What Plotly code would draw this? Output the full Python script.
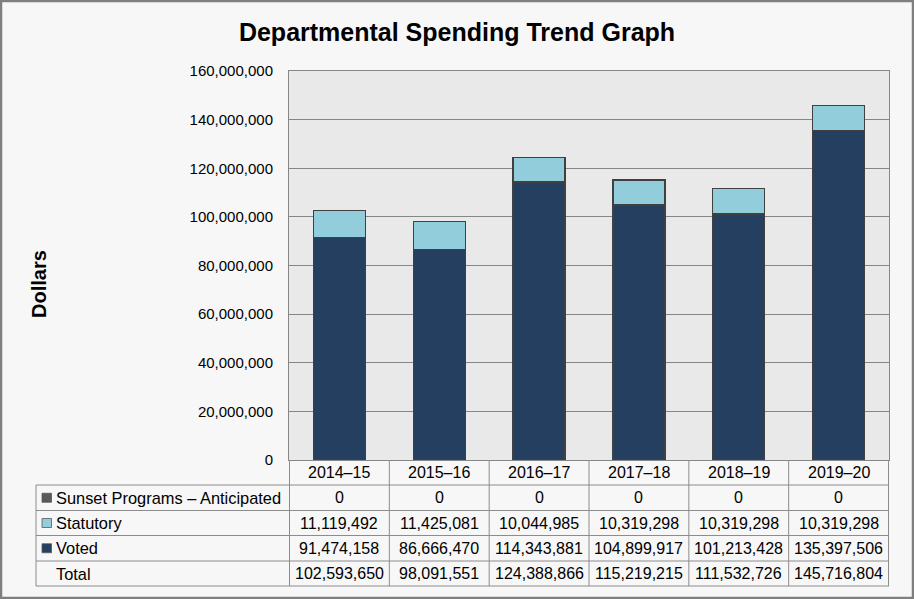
import plotly.graph_objects as go

# ---------------- data ----------------
years = ["2014–15", "2015–16", "2016–17", "2017–18", "2018–19", "2019–20"]
sunset = [0, 0, 0, 0, 0, 0]
statutory = [11119492, 11425081, 10044985, 10319298, 10319298, 10319298]
voted = [91474158, 86666470, 114343881, 104899917, 101213428, 135397506]
total = [102593650, 98091551, 124388866, 115219215, 111532726, 145716804]
series_names = ["Sunset Programs – Anticipated", "Statutory", "Voted"]
y_ticks = [0, 20000000, 40000000, 60000000, 80000000, 100000000,
           120000000, 140000000, 160000000]

# ---------------- style ----------------
W, H = 914, 599
PL, PR, PT, PB = 289, 889, 71, 460          # plot area in pixels
C_SUNSET, C_STAT, C_VOTED = "#595959", "#92cddc", "#243f60"
GRID = "#868686"
FONT = "Liberation Sans, Arial, sans-serif"


def xp(px):
    return (px - PL) / (PR - PL)


def yp(py):
    return (PB - py) / (PB - PT)


fig = go.Figure()
bar_line = dict(color="#404040", width=1.3)
fig.add_trace(go.Bar(x=years, y=voted, name=series_names[2],
                     marker=dict(color=C_VOTED, line=bar_line)))
fig.add_trace(go.Bar(x=years, y=statutory, name=series_names[1],
                     marker=dict(color=C_STAT, line=bar_line)))
fig.add_trace(go.Bar(x=years, y=sunset, name=series_names[0],
                     marker=dict(color=C_SUNSET, line=dict(width=0))))

shapes = []
annotations = []

# table rows (pixel boundaries)
rows = [460, 485, 510.5, 535.5, 561, 586]
row_center = [(rows[i] + rows[i + 1]) / 2 for i in range(5)]
line = dict(color="#8c8c8c", width=1)

for r in rows[1:]:
    shapes.append(dict(type="line", xref="paper", yref="paper",
                       x0=xp(36), x1=xp(PR), y0=yp(r), y1=yp(r), line=line))
shapes.append(dict(type="line", xref="paper", yref="paper",
                   x0=xp(36), x1=xp(36), y0=yp(rows[1]), y1=yp(rows[-1]), line=line))
for i in range(len(years) + 1):
    shapes.append(dict(type="line", xref="x", yref="paper",
                       x0=i - 0.5, x1=i - 0.5, y0=yp(rows[0]), y1=yp(rows[-1]),
                       line=line))

for i, yr in enumerate(years):
    annotations.append(dict(x=i, xref="x", y=yp(row_center[0]), yref="paper",
                            text=yr, showarrow=False, xanchor="center", yanchor="middle",
                            font=dict(size=16, color="black", family=FONT)))

table_rows = [(series_names[0], sunset, C_SUNSET),
              (series_names[1], statutory, C_STAT),
              (series_names[2], voted, C_VOTED),
              ("Total", total, None)]
for k, (label, vals, col) in enumerate(table_rows):
    yc = row_center[k + 1]
    annotations.append(dict(x=xp(54), xref="paper", y=yp(yc), yref="paper",
                            text=label, showarrow=False, xanchor="left", yanchor="middle",
                            font=dict(size=16.4, color="black", family=FONT)))
    if col is not None:
        shapes.append(dict(type="rect", xref="paper", yref="paper",
                           x0=xp(42), x1=xp(51.5), y0=yp(yc - 4.5), y1=yp(yc + 4.5),
                           fillcolor=col, line=dict(color="#595959", width=0.8)))
    for i, v in enumerate(vals):
        annotations.append(dict(x=i, xref="x", y=yp(yc), yref="paper",
                                text=f"{v:,}", showarrow=False,
                                xanchor="center", yanchor="middle",
                                font=dict(size=16, color="black", family=FONT)))

annotations.append(dict(x=xp(39), xref="paper", y=yp(284), yref="paper",
                        text="<b>Dollars</b>", textangle=-90, showarrow=False,
                        xanchor="center", yanchor="middle",
                        font=dict(size=20, color="black", family=FONT)))

shapes.append(dict(type="rect", xref="paper", yref="paper",
                   x0=xp(1), x1=xp(W - 1), y0=yp(H - 1), y1=yp(1),
                   line=dict(color="#7f7f7f", width=2.5), fillcolor="rgba(0,0,0,0)",
                   layer="above"))

fig.update_layout(
    width=W, height=H,
    margin=dict(l=PL, r=W - PR, t=PT, b=H - PB),
    paper_bgcolor="#f7f7f7",
    plot_bgcolor="#e9e9e9",
    barmode="stack",
    bargap=0.48,
    showlegend=False,
    title=dict(text="<b>Departmental Spending Trend Graph</b>",
               x=0.5, xanchor="center", xref="container",
               y=1 - 32 / H, yanchor="middle",
               font=dict(size=25, color="black", family=FONT)),
    font=dict(family=FONT, color="black"),
    xaxis=dict(showticklabels=False, showgrid=False, showline=True,
               linecolor=GRID, linewidth=1, mirror=True, ticks=""),
    yaxis=dict(range=[0, 160000000], tickvals=y_ticks, tickformat=",d",
               showgrid=True, gridcolor=GRID, gridwidth=1,
               showline=True, linecolor=GRID, linewidth=1, mirror=True,
               ticks="outside", ticklen=0, ticklabelstandoff=12,
               tickfont=dict(size=15, color="black", family=FONT),
               zeroline=False),
    shapes=shapes,
    annotations=annotations,
)

fig.write_html("out.html", config={"displayModeBar": False},
               post_script="document.body.style.margin='0';document.body.style.overflow='hidden';")
